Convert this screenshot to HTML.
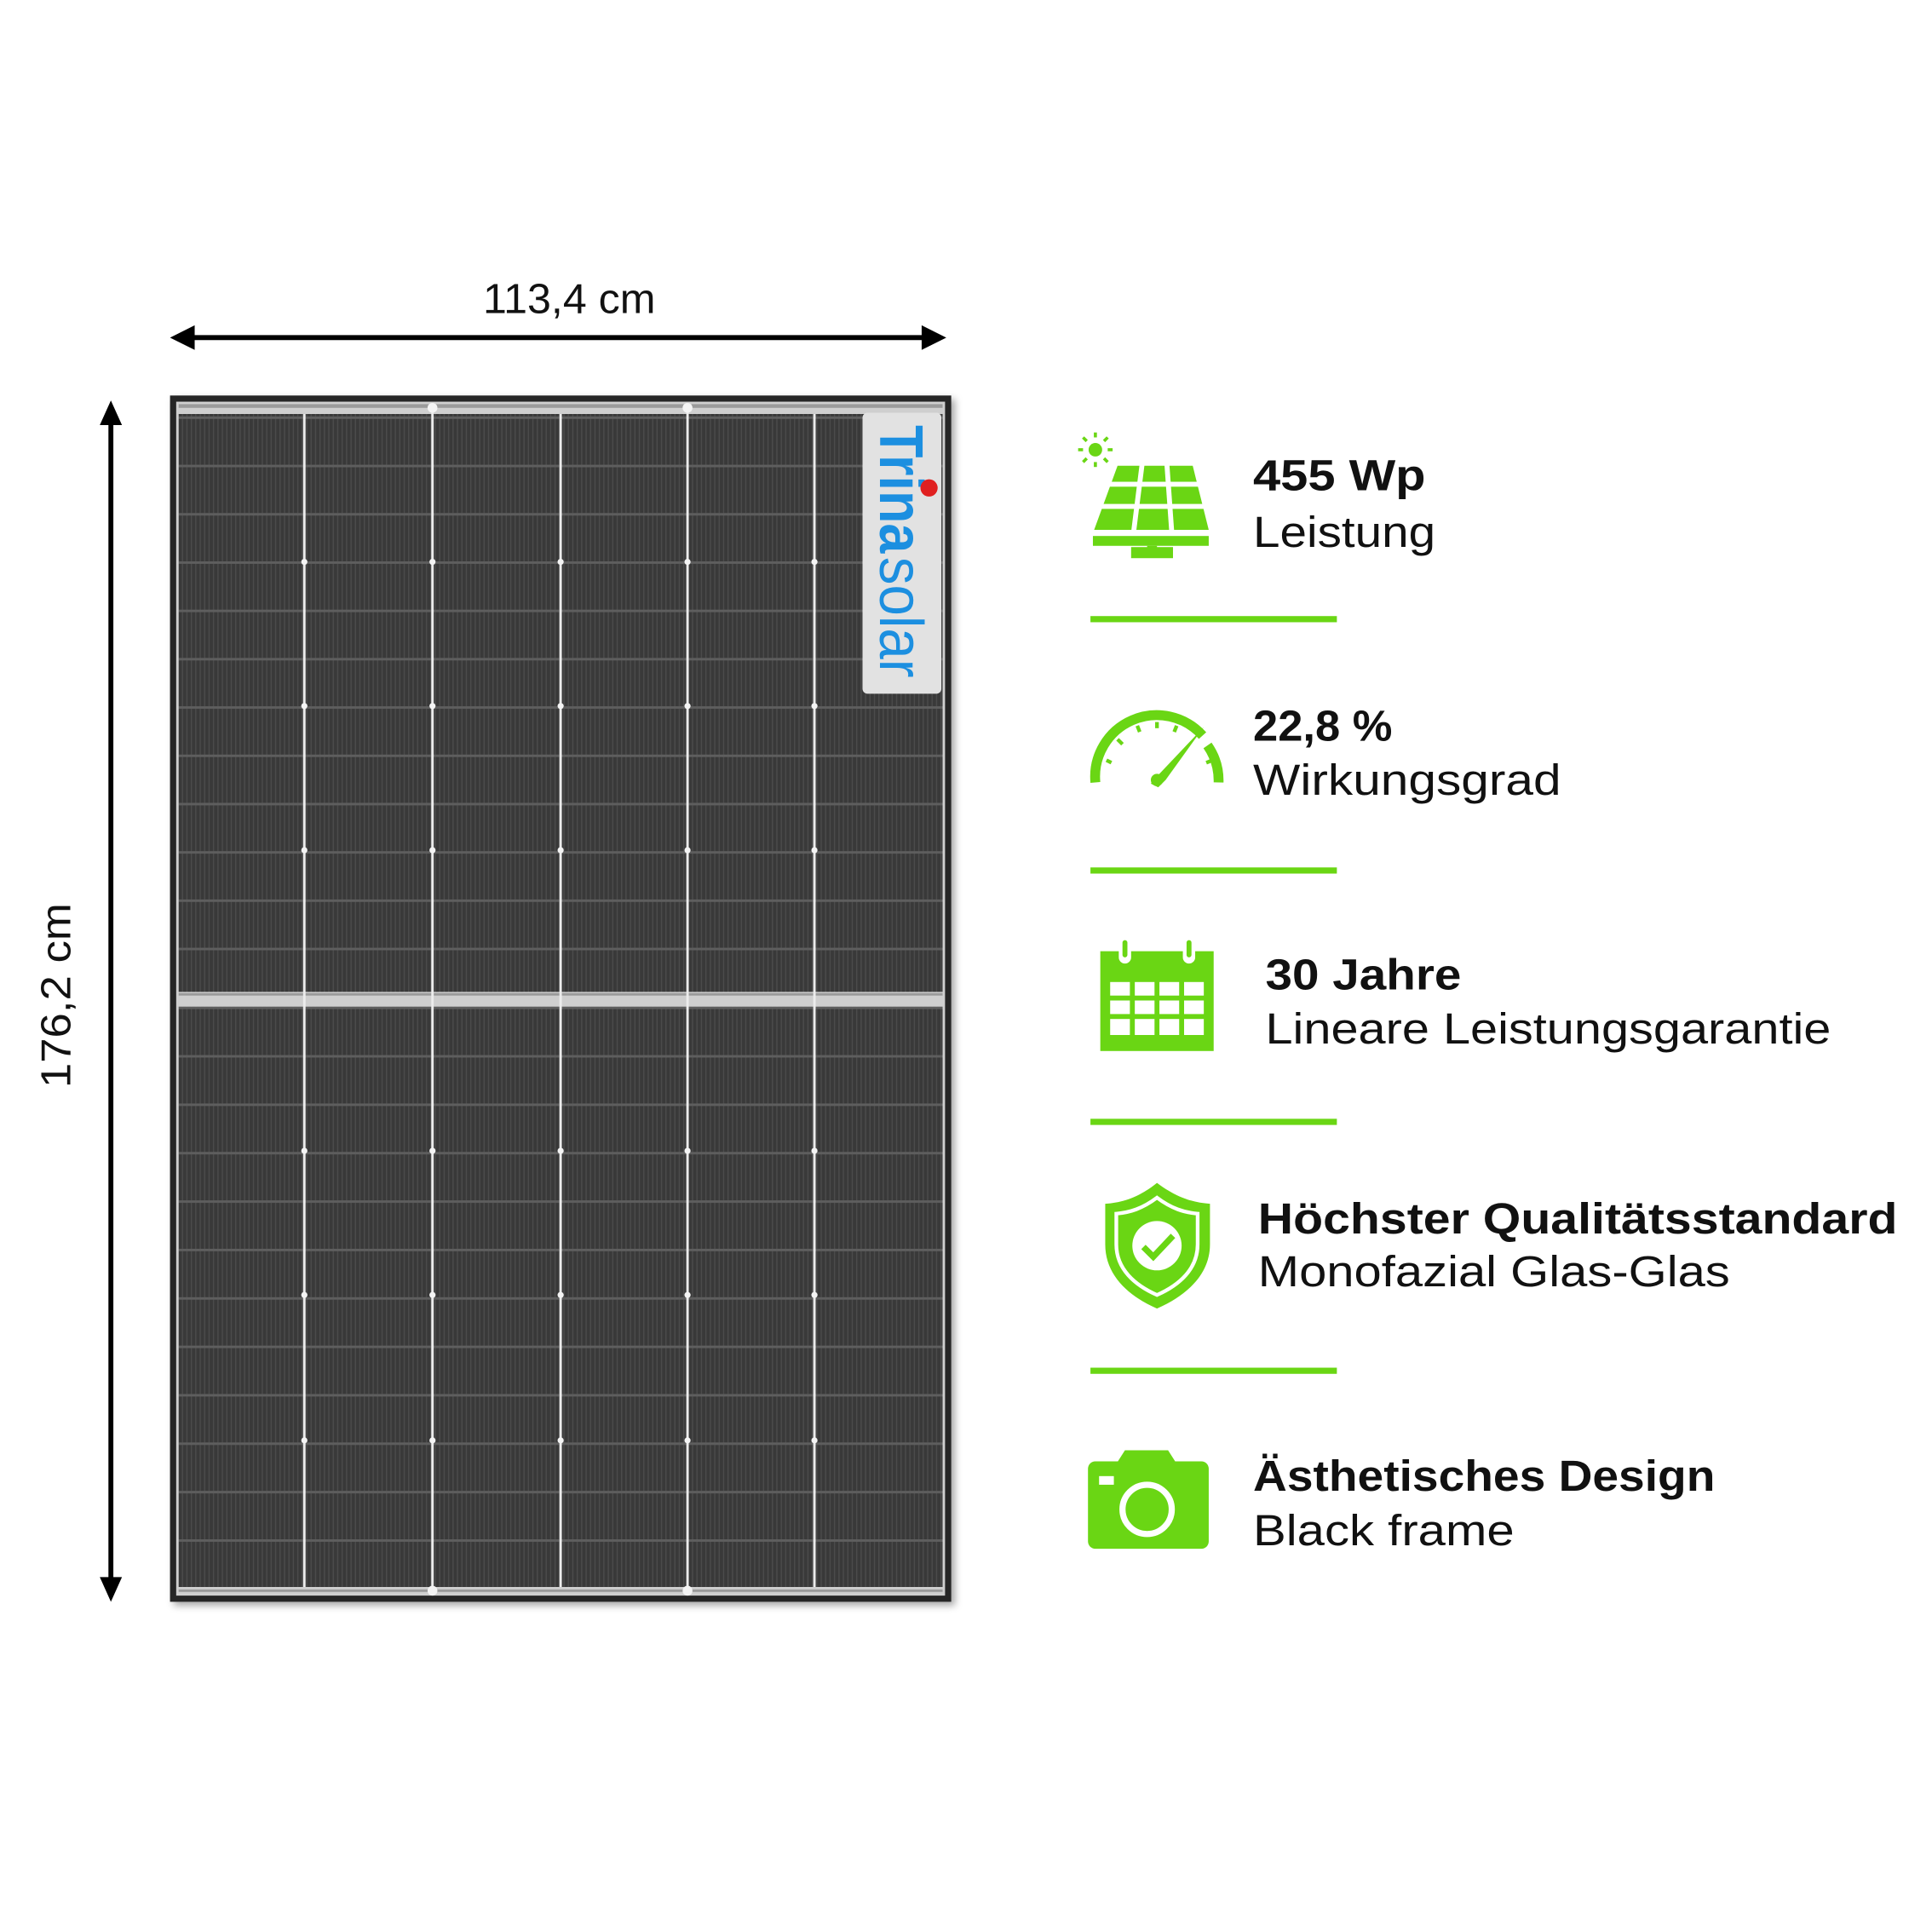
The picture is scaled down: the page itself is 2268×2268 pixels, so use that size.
<!DOCTYPE html>
<html><head><meta charset="utf-8"><style>html,body{margin:0;padding:0;background:#fff}svg{display:block}</style></head>
<body>
<svg width="2268" height="2268" viewBox="0 0 1568 1568" xmlns="http://www.w3.org/2000/svg" font-family="Liberation Sans, sans-serif">
<defs>
<pattern id="cellT" patternUnits="userSpaceOnUse" x="0" y="338" width="3.6" height="39.2">
<rect width="3.6" height="39.2" fill="#393939"/>
<rect x="0" width="1" height="39.2" fill="#4b4b4b"/>
<rect y="0" width="3.6" height="2" fill="#5e5e5e"/>
</pattern>
<pattern id="cellB" patternUnits="userSpaceOnUse" x="0" y="817" width="3.6" height="39.3">
<rect width="3.6" height="39.3" fill="#393939"/>
<rect x="0" width="1" height="39.3" fill="#4b4b4b"/>
<rect y="0" width="3.6" height="2" fill="#5e5e5e"/>
</pattern>
<filter id="sh" x="-5%" y="-5%" width="110%" height="110%"><feDropShadow dx="3" dy="3" stdDeviation="3" flood-opacity="0.35"/></filter>
</defs>

<!-- dimension arrows -->
<line x1="150" y1="274" x2="756" y2="274" stroke="#000" stroke-width="4"/>
<polygon points="138,274 158,264 158,284" fill="#000"/>
<polygon points="768,274 748,264 748,284" fill="#000"/>
<text x="462" y="254" font-size="34" text-anchor="middle" textLength="140" lengthAdjust="spacingAndGlyphs" fill="#111">113,4 cm</text>
<line x1="90" y1="338" x2="90" y2="1288" stroke="#000" stroke-width="4"/>
<polygon points="90,325 81,345 99,345" fill="#000"/>
<polygon points="90,1300 81,1280 99,1280" fill="#000"/>
<text transform="translate(57,808) rotate(-90)" x="0" y="0" font-size="34" text-anchor="middle" textLength="150" lengthAdjust="spacingAndGlyphs" fill="#111">176,2 cm</text>

<!-- panel -->
<rect x="138" y="321" width="634" height="979" fill="#262626" filter="url(#sh)"/>
<rect x="143" y="326" width="624" height="969" fill="#cfcfcf"/>
<rect x="145" y="336" width="620" height="469" fill="url(#cellT)"/>
<rect x="145" y="817" width="620" height="471" fill="url(#cellB)"/>
<rect x="145" y="328" width="620" height="3" fill="#9a9a9a"/>
<rect x="145" y="806" width="620" height="2" fill="#9a9a9a"/>
<rect x="145" y="1290" width="620" height="2" fill="#9a9a9a"/>
<g stroke="#ececec" stroke-width="2">
<line x1="247" y1="336" x2="247" y2="1288"/><line x1="351" y1="330" x2="351" y2="1292"/>
<line x1="455" y1="336" x2="455" y2="1288"/><line x1="558" y1="330" x2="558" y2="1292"/>
<line x1="661" y1="336" x2="661" y2="1288"/>
</g>
<g fill="#f4f4f4">
<circle cx="247" cy="456" r="2.5"/><circle cx="351" cy="456" r="2.5"/><circle cx="455" cy="456" r="2.5"/><circle cx="558" cy="456" r="2.5"/><circle cx="661" cy="456" r="2.5"/>
<circle cx="247" cy="573" r="2.5"/><circle cx="351" cy="573" r="2.5"/><circle cx="455" cy="573" r="2.5"/><circle cx="558" cy="573" r="2.5"/><circle cx="661" cy="573" r="2.5"/>
<circle cx="247" cy="690" r="2.5"/><circle cx="351" cy="690" r="2.5"/><circle cx="455" cy="690" r="2.5"/><circle cx="558" cy="690" r="2.5"/><circle cx="661" cy="690" r="2.5"/>
<circle cx="247" cy="934" r="2.5"/><circle cx="351" cy="934" r="2.5"/><circle cx="455" cy="934" r="2.5"/><circle cx="558" cy="934" r="2.5"/><circle cx="661" cy="934" r="2.5"/>
<circle cx="247" cy="1051" r="2.5"/><circle cx="351" cy="1051" r="2.5"/><circle cx="455" cy="1051" r="2.5"/><circle cx="558" cy="1051" r="2.5"/><circle cx="661" cy="1051" r="2.5"/>
<circle cx="247" cy="1169" r="2.5"/><circle cx="351" cy="1169" r="2.5"/><circle cx="455" cy="1169" r="2.5"/><circle cx="558" cy="1169" r="2.5"/><circle cx="661" cy="1169" r="2.5"/>
<circle cx="351" cy="331" r="4"/><circle cx="558" cy="331" r="4"/><circle cx="351" cy="1291" r="4"/><circle cx="558" cy="1291" r="4"/>
</g>
<!-- logo -->
<rect x="700" y="335" width="64" height="228" rx="4" fill="#e2e2e2"/>
<text transform="translate(714,345) rotate(90)" font-size="50" font-weight="bold" fill="#1c8fe0" textLength="104" lengthAdjust="spacingAndGlyphs">Trina</text>
<text transform="translate(714,452) rotate(90)" font-size="50" fill="#1c8fe0" textLength="98" lengthAdjust="spacingAndGlyphs">solar</text>
<circle cx="754" cy="396" r="7" fill="#e02020"/>

<!-- icons -->
<g fill="#6ad614">
<!-- solar -->
<circle cx="889" cy="365" r="5.5"/>
<g stroke="#6ad614" stroke-width="2.5"><line x1="889" y1="351" x2="889" y2="355"/><line x1="889" y1="375" x2="889" y2="379"/><line x1="875" y1="365" x2="879" y2="365"/><line x1="899" y1="365" x2="903" y2="365"/><line x1="879" y1="355" x2="882" y2="358"/><line x1="896" y1="372" x2="899" y2="375"/><line x1="899" y1="355" x2="896" y2="358"/><line x1="879" y1="375" x2="882" y2="372"/></g>
<polygon points="907,378 968,378 981,430 888,430"/>
<g fill="#fff"><rect x="880" y="391" width="110" height="4"/><rect x="880" y="409" width="110" height="4"/></g>
<g stroke="#fff" stroke-width="4"><line x1="927" y1="376" x2="920" y2="432"/><line x1="947" y1="376" x2="951" y2="432"/></g>
<rect x="887" y="435" width="94" height="8"/><rect x="931" y="443" width="8" height="7"/><rect x="918" y="444" width="34" height="9"/>
<!-- gauge -->
<path d="M889,635 A50,50 0 0 1 976,597" fill="none" stroke="#6ad614" stroke-width="8"/>
<path d="M980,605 A50,50 0 0 1 989,635" fill="none" stroke="#6ad614" stroke-width="8"/>
<g stroke="#6ad614" stroke-width="3"><line x1="898" y1="617" x2="902" y2="619"/><line x1="907" y1="600" x2="911" y2="604"/><line x1="923" y1="589" x2="925" y2="594"/><line x1="939" y1="586" x2="939" y2="591"/><line x1="955" y1="589" x2="953" y2="594"/><line x1="984" y1="617" x2="979" y2="619"/></g>
<polygon points="977,590 941,628 934,636 940,639 946,633"/>
<circle cx="939" cy="633" r="5"/>
<!-- calendar -->
<rect x="893" y="772" width="92" height="81"/>
<g fill="#fff"><rect x="901" y="797" width="16" height="11"/><rect x="921" y="797" width="16" height="11"/><rect x="941" y="797" width="16" height="11"/><rect x="961" y="797" width="16" height="11"/>
<rect x="901" y="812" width="16" height="11"/><rect x="921" y="812" width="16" height="11"/><rect x="941" y="812" width="16" height="11"/><rect x="961" y="812" width="16" height="11"/>
<rect x="901" y="827" width="16" height="13"/><rect x="921" y="827" width="16" height="13"/><rect x="941" y="827" width="16" height="13"/><rect x="961" y="827" width="16" height="13"/>
<rect x="908" y="764" width="10" height="18" rx="5"/><rect x="960" y="764" width="10" height="18" rx="5"/></g>
<rect x="911" y="763" width="4" height="14" rx="2"/><rect x="963" y="763" width="4" height="14" rx="2"/>
<!-- shield -->
<path d="M939,960 C955,972 968,976 982,977 L982,1010 C982,1035 962,1052 939,1062 C916,1052 897,1035 897,1010 L897,977 C911,976 924,972 939,960 Z"/>
<path d="M939,972 C951,981 961,984 972,985 L972,1010 C972,1030 957,1043 939,1051 C921,1043 906,1030 906,1010 L906,985 C917,984 927,981 939,972 Z" fill="none" stroke="#fff" stroke-width="3"/>
<circle cx="939" cy="1011" r="20" fill="#fff"/>
<polyline points="928,1012 936,1020 952,1003" fill="none" stroke="#6ad614" stroke-width="5"/>
<!-- camera -->
<path d="M906,1188 L913,1177 L948,1177 L955,1188 Z"/>
<rect x="883" y="1186" width="98" height="71" rx="6"/>
<rect x="892" y="1198" width="12" height="7" fill="#fff"/>
<circle cx="931" cy="1225" r="20" fill="none" stroke="#fff" stroke-width="5"/>
</g>
<!-- separators -->
<g fill="#6ad614"><rect x="885" y="500" width="200" height="5"/><rect x="885" y="704" width="200" height="5"/><rect x="885" y="908" width="200" height="5"/><rect x="885" y="1110" width="200" height="5"/></g>

<!-- text -->
<g fill="#111" font-size="35">
<text x="1017" y="398" font-weight="bold" textLength="140" lengthAdjust="spacingAndGlyphs">455 Wp</text>
<text x="1017" y="444" textLength="148" lengthAdjust="spacingAndGlyphs">Leistung</text>
<text x="1017" y="601" font-weight="bold" textLength="113" lengthAdjust="spacingAndGlyphs">22,8 %</text>
<text x="1017" y="645" textLength="250" lengthAdjust="spacingAndGlyphs">Wirkungsgrad</text>
<text x="1027" y="803" font-weight="bold" textLength="159" lengthAdjust="spacingAndGlyphs">30 Jahre</text>
<text x="1027" y="847" textLength="459" lengthAdjust="spacingAndGlyphs">Lineare Leistungsgarantie</text>
<text x="1021" y="1001" font-weight="bold" textLength="519" lengthAdjust="spacingAndGlyphs">Höchster Qualitätsstandard</text>
<text x="1021" y="1044" textLength="383" lengthAdjust="spacingAndGlyphs">Monofazial Glas-Glas</text>
<text x="1017" y="1210" font-weight="bold" textLength="375" lengthAdjust="spacingAndGlyphs">Ästhetisches Design</text>
<text x="1017" y="1254" textLength="212" lengthAdjust="spacingAndGlyphs">Black frame</text>
</g>
</svg>
</body></html>
